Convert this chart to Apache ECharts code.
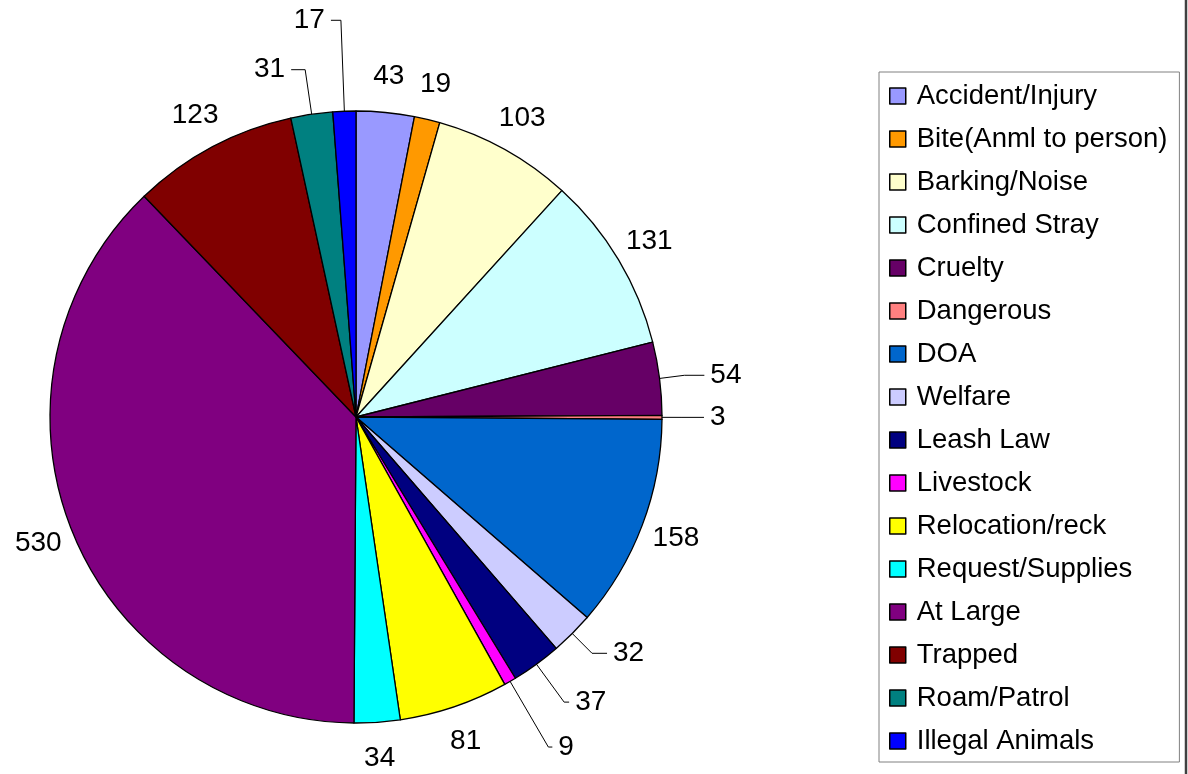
<!DOCTYPE html>
<html>
<head>
<meta charset="utf-8">
<script src="https://cdn.jsdelivr.net/npm/echarts@6/dist/echarts.min.js"></script>
<style>
  html, body { margin: 0; padding: 0; background: #fff; }
  #chart { width: 1188px; height: 774px; }
</style>
</head>
<body>
<div id="chart"></div>
<script>
// call types, in the order of the slices (clockwise from 12 o'clock)
var categories = ['Accident/Injury', 'Bite(Anml to person)', 'Barking/Noise', 'Confined Stray',
  'Cruelty', 'Dangerous', 'DOA', 'Welfare', 'Leash Law', 'Livestock', 'Relocation/reck',
  'Request/Supplies', 'At Large', 'Trapped', 'Roam/Patrol', 'Illegal Animals'];
var counts = [43, 19, 103, 131, 54, 3, 158, 32, 37, 9, 81, 34, 530, 123, 31, 17];

var colors = ['#9999ff', '#ff9900', '#ffffcc', '#ccffff', '#660066', '#ff8080', '#0066cc', '#ccccff',
  '#000080', '#ff00ff', '#ffff00', '#00ffff', '#800080', '#800000', '#008080', '#0000ff'];

// leader lines for the thin slices: [radial length, horizontal length]
var leaders = {
  'Cruelty': [25, 20],
  'Dangerous': [20, 22],
  'Welfare': [28, 15],
  'Leash Law': [47, 5],
  'Livestock': [76, 4],
  'Roam/Patrol': [45, 14],
  'Illegal Animals': [91, 10]
};

var font = 'Liberation Sans, Arial, sans-serif';

var pieData = categories.map(function (name, i) {
  var ld = leaders[name];
  return {
    name: name,
    value: counts[i],
    label: { distanceToLabelLine: ld ? 6 : 0 },
    labelLine: ld ? { show: true, length: ld[0], length2: ld[1] } : { show: false, length: 36, length2: 0 }
  };
});

var chart = echarts.init(document.getElementById('chart'));
chart.setOption({
  animation: false,
  color: colors,
  legend: {
    orient: 'vertical',
    left: 879,
    top: 72,
    padding: [10, 12, 7, 10],
    borderColor: '#808080',
    borderWidth: 1,
    itemWidth: 16,
    itemHeight: 16,
    itemGap: 15,
    icon: 'rect',
    selectedMode: false,
    itemStyle: { borderColor: '#000', borderWidth: 1.5 },
    textStyle: { fontFamily: font, fontSize: 27.5, color: '#000', lineHeight: 28, padding: [0, 0, 0, 6] },
    data: categories
  },
  graphic: [{
    type: 'line',
    shape: { x1: 1186, y1: 0, x2: 1186, y2: 774 },
    style: { stroke: '#404040', lineWidth: 2.5 }
  }],
  series: [{
    type: 'pie',
    center: [356, 417],
    radius: 306,
    startAngle: 90,
    clockwise: true,
    avoidLabelOverlap: false,
    silent: true,
    itemStyle: { borderColor: '#000', borderWidth: 1.3 },
    label: {
      show: true,
      position: 'outside',
      formatter: '{c}',
      fontFamily: font,
      fontSize: 28,
      color: '#000'
    },
    labelLine: { lineStyle: { color: '#000', width: 1 } },
    labelLayout: function (p) {
      if (!leaders[categories[p.dataIndex]]) {
        return { align: 'center', verticalAlign: 'middle' };
      }
      return {};
    },
    data: pieData
  }]
});
</script>
</body>
</html>
